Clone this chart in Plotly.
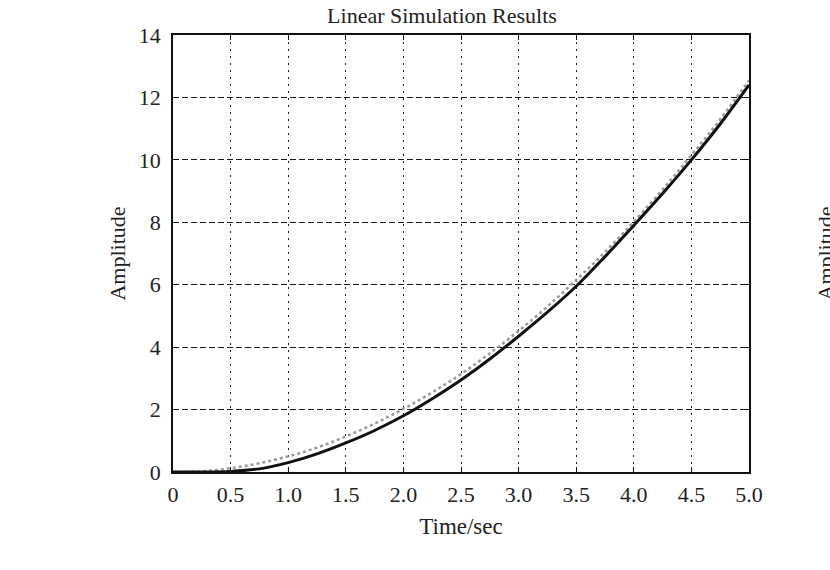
import plotly.graph_objects as go

# time points (sec)
t = [0, 0.25, 0.5, 0.75, 1.0, 1.25, 1.5, 1.75, 2.0, 2.25, 2.5, 2.75, 3.0,
     3.25, 3.5, 3.75, 4.0, 4.25, 4.5, 4.75, 5.0]
# system output (solid black)
y_out = [0, 0.0, 0.02, 0.1, 0.3, 0.58, 0.93, 1.33, 1.8, 2.35, 2.95, 3.62, 4.35,
         5.12, 5.95, 6.9, 7.9, 8.92, 10.0, 11.15, 12.4]
# reference input (dotted gray)
y_in = [0, 0.02, 0.12, 0.28, 0.5, 0.78, 1.14, 1.55, 2.02, 2.55, 3.14, 3.8, 4.52,
        5.3, 6.15, 7.05, 8.02, 9.05, 10.15, 11.3, 12.55]

xticks = [0, 0.5, 1.0, 1.5, 2.0, 2.5, 3.0, 3.5, 4.0, 4.5, 5.0]
xticklabels = ["0", "0.5", "1.0", "1.5", "2.0", "2.5", "3.0", "3.5", "4.0", "4.5", "5.0"]
yticks = [0, 2, 4, 6, 8, 10, 12, 14]
yticklabels = ["0", "2", "4", "6", "8", "10", "12", "14"]

FONT = "Liberation Serif"

fig = go.Figure()
fig.add_trace(go.Scatter(x=t, y=y_in, mode="lines", line_shape="spline",
                         line=dict(color="#9a9a9a", width=2.5, dash="dot"),
                         showlegend=False, hoverinfo="skip"))
fig.add_trace(go.Scatter(x=t, y=y_out, mode="lines", line_shape="spline",
                         line=dict(color="#111111", width=3),
                         showlegend=False, hoverinfo="skip"))

axis_common = dict(showline=True, linecolor="#111111", linewidth=1.5, mirror="ticks",
                   ticks="inside", ticklen=5, tickwidth=1.2, tickcolor="#111111",
                   showgrid=True, gridcolor="#1a1a1a", gridwidth=1.2, zeroline=False,
                   tickfont=dict(family=FONT, size=22, color="#222222"))

fig.update_xaxes(range=[0, 5], tickmode="array", tickvals=xticks, ticktext=xticklabels,
                 griddash="2px,5px", ticklabelstandoff=2,
                 title=dict(text="Time/sec", font=dict(family=FONT, size=23, color="#222222"),
                            standoff=12),
                 **axis_common)
fig.update_yaxes(range=[0, 14], tickmode="array", tickvals=yticks, ticktext=yticklabels,
                 griddash="6px,3px", ticklabelstandoff=6,
                 title=dict(text="Amplitude", font=dict(family=FONT, size=22, color="#222222"),
                            standoff=7),
                 **axis_common)

fig.update_layout(
    width=830, height=570,
    margin=dict(l=173, r=81, t=35, b=98),
    paper_bgcolor="white", plot_bgcolor="white",
    title=dict(text="Linear Simulation Results", x=442 / 830, xanchor="center",
               y=1 - 15 / 570, yanchor="middle",
               font=dict(family=FONT, size=22, color="#222222")),
    annotations=[dict(text="Amplitude", xref="paper", yref="paper",
                      x=(810 - 173) / (749 - 173), xanchor="left",
                      y=(472 - 254) / (472 - 35), yanchor="middle",
                      textangle=-90, showarrow=False,
                      font=dict(family=FONT, size=22, color="#222222"))],
)

fig.write_html("out.html")
